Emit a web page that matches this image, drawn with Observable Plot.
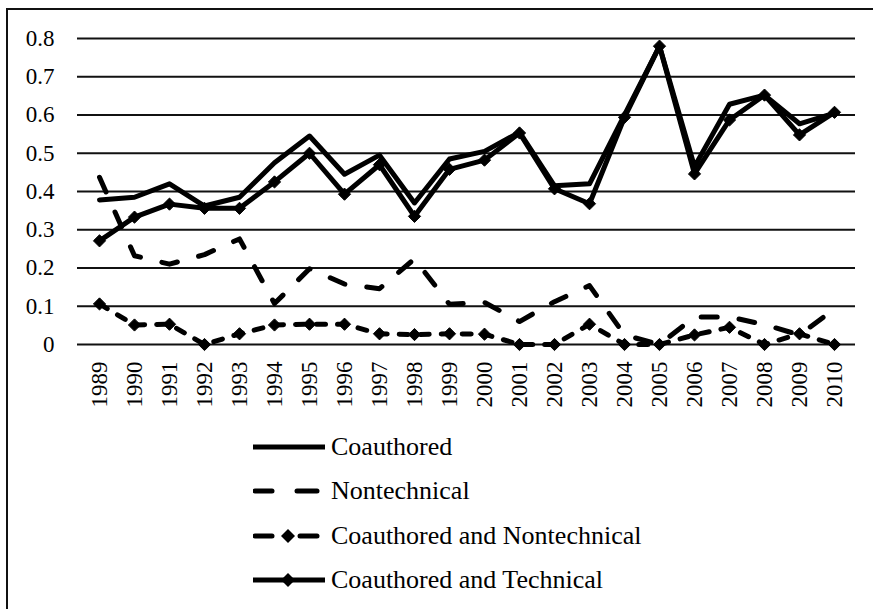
<!DOCTYPE html>
<html><head><meta charset="utf-8">
<script src="https://cdn.jsdelivr.net/npm/d3@7"></script>
<script src="https://cdn.jsdelivr.net/npm/@observablehq/plot@0.6"></script>
<style>
html,body{margin:0;padding:0;background:#fff;}
#wrap{position:relative;width:873px;height:609px;overflow:hidden;background:#fff;font-family:'Liberation Serif','Times New Roman',Times,'DejaVu Serif',serif;}
#frame{position:absolute;left:6px;top:8px;width:900px;height:700px;border-left:2px solid #111;border-top:2px solid #111;}
#chart{position:absolute;left:0;top:0;}
#legend{position:absolute;left:0;top:0;width:873px;}
.row{position:absolute;left:253px;height:34px;display:flex;align-items:center;font-size:26px;color:#000;white-space:nowrap;font-family:'Liberation Serif','Times New Roman',Times,'DejaVu Serif',serif;}
.row svg{display:block;margin-right:4px;}
#chart svg text{font-family:'Liberation Serif','Times New Roman',Times,'DejaVu Serif',serif;}
</style></head>
<body>
<div id="wrap"><div id="frame"></div><div id="chart"></div><div id="legend"></div></div>
<script>
const years = ["1989","1990","1991","1992","1993","1994","1995","1996","1997","1998","1999","2000","2001","2002","2003","2004","2005","2006","2007","2008","2009","2010"];
const seriesNames = ["Coauthored","Nontechnical","Coauthored and Nontechnical","Coauthored and Technical"];
const coauthored = [0.378,0.385,0.42,0.362,0.385,0.475,0.545,0.445,0.495,0.37,0.485,0.505,0.555,0.415,0.42,0.6,0.78,0.465,0.628,0.652,0.577,0.605];
const nontechnical = [0.437,0.232,0.21,0.235,0.276,0.107,0.198,0.158,0.146,0.224,0.105,0.11,0.06,0.112,0.154,0.025,0.0,0.072,0.072,0.052,0.025,0.093];
const coauthNontech = [0.106,0.051,0.053,0,0.028,0.051,0.053,0.053,0.028,0.026,0.028,0.027,0,0,0.053,0,0,0.025,0.045,0,0.028,0];
const coauthTech = [0.271,0.333,0.367,0.356,0.356,0.425,0.5,0.393,0.47,0.335,0.458,0.482,0.553,0.407,0.368,0.594,0.78,0.446,0.587,0.652,0.548,0.607];
const yTicks = [0,0.1,0.2,0.3,0.4,0.5,0.6,0.7,0.8];

const valuesBySeries = [coauthored, nontechnical, coauthNontech, coauthTech];
const table = [];
seriesNames.forEach((s, k) => years.forEach((y, i) => table.push({year: y, series: s, value: valuesBySeries[k][i]})));
const of = s => table.filter(d => d.series === s);
const SERIF = "'Liberation Serif','Times New Roman',Times,'DejaVu Serif',serif";
const LW = 5;

const chart = Plot.plot({
  width: 873, height: 420,
  marginLeft: 77, marginRight: 18, marginTop: 38, marginBottom: 76,
  style: {fontFamily: SERIF, fontSize: "23px", color: "#000", background: "transparent"},
  x: {type: "point", domain: years, padding: 0.5},
  y: {domain: [0, 0.8]},
  marks: [
    Plot.ruleY(yTicks, {stroke: "#111", strokeWidth: 1.8}),
    Plot.axisY({ticks: yTicks, tickSize: 0, tickPadding: 23, label: null, tickFormat: d => d === 0 ? "0" : d3.format(".1f")(d)}),
    Plot.axisX({tickRotate: -90, tickSize: 0, tickPadding: 17, label: null}),
    Plot.lineY(of(seriesNames[0]), {x: "year", y: "value", stroke: "#000", strokeWidth: LW}),
    Plot.lineY(of(seriesNames[1]), {x: "year", y: "value", stroke: "#000", strokeWidth: LW, strokeDasharray: "16,22", strokeLinecap: "round"}),
    Plot.lineY(of(seriesNames[2]), {x: "year", y: "value", stroke: "#000", strokeWidth: LW, strokeDasharray: "9,12", strokeLinecap: "round"}),
    Plot.dot(of(seriesNames[2]), {x: "year", y: "value", symbol: "diamond2", r: 5.5, fill: "#000", stroke: "#000", strokeWidth: 1}),
    Plot.lineY(of(seriesNames[3]), {x: "year", y: "value", stroke: "#000", strokeWidth: LW}),
    Plot.dot(of(seriesNames[3]), {x: "year", y: "value", symbol: "diamond2", r: 5.5, fill: "#000", stroke: "#000", strokeWidth: 1})
  ]
});
document.getElementById("chart").appendChild(chart);

// legend
const rowY = [446.7, 490.7, 535.7, 580];
const legend = d3.select("#legend");
seriesNames.forEach((name, k) => {
  const row = legend.append("div").attr("class", "row").style("top", (rowY[k] - 17) + "px");
  const svg = row.append("svg").attr("width", 74).attr("height", 20);
  if (k === 0) {
    svg.append("line").attr("x1", 0).attr("x2", 72).attr("y1", 10).attr("y2", 10).attr("stroke", "#000").attr("stroke-width", LW);
  } else if (k === 1) {
    svg.append("line").attr("x1", 2).attr("x2", 19).attr("y1", 10).attr("y2", 10).attr("stroke", "#000").attr("stroke-width", LW).attr("stroke-linecap", "round");
    svg.append("line").attr("x1", 44).attr("x2", 64).attr("y1", 10).attr("y2", 10).attr("stroke", "#000").attr("stroke-width", LW).attr("stroke-linecap", "round");
  } else if (k === 2) {
    svg.append("line").attr("x1", 2).attr("x2", 19).attr("y1", 10).attr("y2", 10).attr("stroke", "#000").attr("stroke-width", LW).attr("stroke-linecap", "round");
    svg.append("line").attr("x1", 47).attr("x2", 64).attr("y1", 10).attr("y2", 10).attr("stroke", "#000").attr("stroke-width", LW).attr("stroke-linecap", "round");
    svg.append("path").attr("d", "M35,3 L42,10 L35,17 L28,10 Z").attr("fill", "#000");
  } else {
    svg.append("line").attr("x1", 0).attr("x2", 72).attr("y1", 10).attr("y2", 10).attr("stroke", "#000").attr("stroke-width", LW);
    svg.append("path").attr("d", "M35,3 L42,10 L35,17 L28,10 Z").attr("fill", "#000");
  }
  row.append("span").text(name);
});
</script>
</body></html>
